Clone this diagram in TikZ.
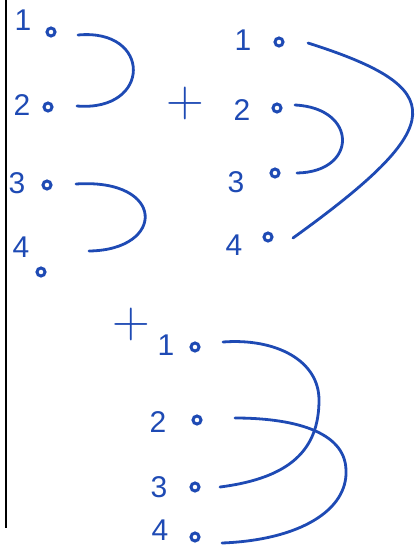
\documentclass[tikz,border=0pt]{standalone}
\usepackage{fontspec}
\setmainfont{Liberation Sans}
\definecolor{ink}{RGB}{30,74,180}
\begin{document}
\begin{tikzpicture}[x=1pt,y=-1pt,
  digit/.style={text=ink,font=\fontsize{30}{30}\selectfont,inner sep=0pt},
  plus/.style={text=ink,font=\Huge,scale=2.1,inner sep=0pt},
  pin/.style={circle,draw=ink,fill=white,line width=3pt,minimum size=8pt,inner sep=0pt},
  wire/.style={draw=ink,line width=2.8pt,line cap=round}]
\useasboundingbox (0,0) rectangle (415,550);
\draw[line width=2pt] (6,0) -- (6,528);
% left group
\node[digit] (la) at (23,20) {1};
\node[digit] (lb) at (22,105) {2};
\node[digit] (lc) at (17,183) {3};
\node[digit] (ld) at (21,247) {4};
\node[pin] (pa) at (51,32) {};
\node[pin] (pb) at (48,107) {};
\node[pin] (pc) at (47,185) {};
\node[pin] (pd) at (41,272) {};
\coordinate (a1) at (78,35);
\coordinate (a2) at (77,106);
\coordinate (a3) at (76,184);
\coordinate (a4) at (89,251);
\draw[wire] (a1) .. controls (152,28) and (152,112) .. (a2);
\draw[wire] (a3) .. controls (166,178) and (166,250) .. (a4);
% top right group
\node[plus] (p1) at (185,103) {$+$};
\node[digit] (ra) at (243,40) {1};
\node[digit] (rb) at (242,110) {2};
\node[digit] (rc) at (236,182) {3};
\node[digit] (rd) at (234,245) {4};
\node[pin] (qa) at (279,42) {};
\node[pin] (qb) at (277,108) {};
\node[pin] (qc) at (275,173) {};
\node[pin] (qd) at (268,237) {};
\coordinate (b1) at (308,43);
\coordinate (b2) at (295,105);
\coordinate (b3) at (297,173);
\coordinate (b4) at (293,238);
\draw[wire] (b2) .. controls (358,108) and (358,172) .. (b3);
\draw[wire] (b1) .. controls (450,88) and (450,125) .. (b4);
% bottom group
\node[plus] (p2) at (131,324) {$+$};
\node[digit] (sa) at (166,345) {1};
\node[digit] (sb) at (158,422) {2};
\node[digit] (sc) at (159,487) {3};
\node[digit] (sd) at (160,530) {4};
\node[pin] (ta) at (195,347) {};
\node[pin] (tb) at (197,420) {};
\node[pin] (tc) at (195,487) {};
\node[pin] (td) at (195,537) {};
\coordinate (c1) at (223,342);
\coordinate (c2) at (235,418);
\coordinate (c3) at (220,487);
\coordinate (c4) at (222,543);
\draw[wire] (c1) .. controls (275,338) and (319,360) .. (319,400)
  .. controls (319,450) and (290,478) .. (c3);
\draw[wire] (c2) .. controls (290,418) and (345,430) .. (346,470)
  .. controls (348,510) and (300,540) .. (c4);
\end{tikzpicture}
\end{document}
